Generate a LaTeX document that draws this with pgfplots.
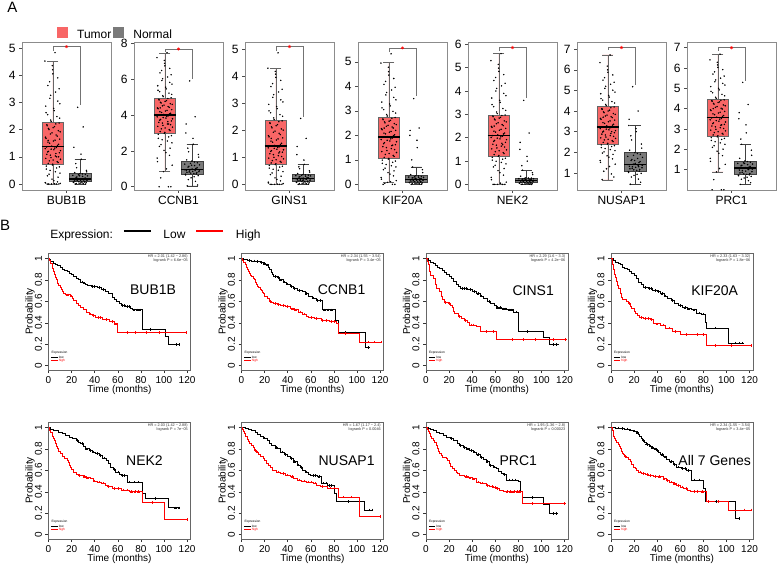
\documentclass[border=0pt]{standalone}
\usepackage{fontspec}
\setmainfont{Liberation Sans}
\usepackage{pgfplots}
\pgfplotsset{compat=1.18}
\usepackage{pgfplotstable}
\usepgfplotslibrary{statistics}
\definecolor{tumorred}{RGB}{248,102,102}
\definecolor{normalgray}{RGB}{122,122,122}
\newcommand{\fs}[1]{\fontsize{#1}{#1}\selectfont}

\pgfplotstableread{
j bub ccn gin kif nek nus prc
-0.21 0 0 0 0 0 0.68 0
0.13 0 0 0 0 0 0.95 0
-0.05 0 0.84 0 0.08 0 1.2 0.88
0.27 0.02 1.2 0.03 0.15 0.1 1.42 1.25
-0.28 0.05 1.6 0.08 0.28 0.3 1.6 1.55
0.04 0.12 1.9 0.18 0.42 0.5 1.76 1.8
0.19 0.25 2.15 0.3 0.55 0.68 1.9 2.0
-0.14 0.36 2.35 0.42 0.66 0.82 2.02 2.17
0.09 0.45 2.55 0.52 0.76 0.94 2.13 2.31
-0.24 0.55 2.7 0.6 0.86 1.04 2.23 2.43
0.24 0.63 2.85 0.67 0.95 1.12 2.32 2.53
-0.02 0.70 2.98 0.73 1.03 1.2 2.4 2.61
-0.17 0.76 3.08 0.79 1.1 1.28 2.48 2.7
0.16 0.82 3.18 0.85 1.18 1.36 2.56 2.78
0.01 0.88 3.28 0.91 1.26 1.44 2.63 2.86
-0.26 0.94 3.37 0.97 1.34 1.52 2.7 2.94
0.21 1.0 3.46 1.03 1.42 1.6 2.77 3.02
-0.09 1.06 3.55 1.1 1.5 1.68 2.84 3.1
0.11 1.12 3.63 1.16 1.58 1.76 2.91 3.18
-0.19 1.18 3.71 1.22 1.66 1.84 2.98 3.26
0.28 1.23 3.79 1.28 1.74 1.92 3.05 3.34
-0.06 1.28 3.86 1.33 1.8 1.98 3.12 3.41
0.07 1.32 3.93 1.37 1.86 2.04 3.18 3.48
-0.23 1.36 3.99 1.41 1.92 2.09 3.24 3.54
0.17 1.42 4.06 1.48 1.99 2.16 3.32 3.62
-0.12 1.5 4.14 1.56 2.06 2.24 3.4 3.7
0.02 1.58 4.22 1.64 2.13 2.32 3.48 3.78
0.25 1.65 4.3 1.72 2.2 2.4 3.56 3.86
-0.27 1.72 4.39 1.8 2.27 2.48 3.64 3.94
0.12 1.8 4.47 1.89 2.34 2.56 3.72 4.02
-0.03 1.88 4.55 1.97 2.41 2.64 3.8 4.1
0.2 1.96 4.63 2.05 2.48 2.72 3.88 4.18
-0.16 2.04 4.71 2.13 2.55 2.8 3.96 4.26
0.06 2.11 4.8 2.21 2.61 2.87 4.04 4.33
-0.22 2.18 4.88 2.28 2.67 2.93 4.12 4.39
0.23 2.24 4.96 2.35 2.73 2.97 4.2 4.43
-0.08 2.35 5.08 2.46 2.85 3.1 4.32 4.56
0.15 2.48 5.22 2.58 2.98 3.25 4.46 4.7
-0.25 2.62 5.38 2.72 3.12 3.42 4.6 4.85
0.03 2.78 5.55 2.88 3.28 3.6 4.76 5.0
0.26 2.95 5.72 3.05 3.45 3.8 4.92 5.16
-0.11 3.15 5.92 3.22 3.65 4.0 5.1 5.32
0.1 3.38 6.12 3.42 3.85 4.22 5.3 5.5
-0.18 3.62 6.35 3.62 4.08 4.45 5.5 5.7
0.18 3.9 6.6 3.85 4.32 4.7 5.75 5.92
-0.01 4.2 6.88 4.08 4.6 4.98 6.0 6.15
-0.29 4.52 7.2 4.3 4.95 5.3 6.35 6.4
0.08 4.83 7.48 4.87 5.33 5.6 6.72 6.68
}\tumortab

\pgfplotstableread{
j bub ccn gin kif nek nus prc
0.22 0 0 0 0 0 0.8 0
-0.15 0 0.5 0 0.04 0 1.08 0.5
0.06 0.01 1.0 0.01 0.11 0.05 1.31 1.05
-0.27 0.04 1.4 0.05 0.21 0.2 1.51 1.4
0.17 0.08 1.75 0.13 0.35 0.4 1.68 1.68
-0.03 0.18 2.03 0.24 0.48 0.59 1.83 1.9
-0.2 0.3 2.25 0.36 0.6 0.75 1.96 2.09
0.26 0.4 2.45 0.47 0.71 0.88 2.08 2.24
-0.1 0.5 2.62 0.56 0.81 0.99 2.18 2.37
0.14 0.59 2.78 0.64 0.9 1.08 2.28 2.48
-0.24 0.66 2.92 0.7 0.99 1.16 2.36 2.57
0.0 0.73 3.03 0.76 1.06 1.24 2.44 2.66
0.19 0.79 3.13 0.82 1.14 1.32 2.52 2.74
-0.13 0.85 3.23 0.88 1.22 1.4 2.6 2.82
0.28 0.91 3.32 0.94 1.3 1.48 2.67 2.9
-0.07 0.97 3.42 1.0 1.38 1.56 2.74 2.98
0.09 1.03 3.5 1.06 1.46 1.64 2.81 3.06
-0.22 1.09 3.59 1.13 1.54 1.72 2.88 3.14
0.24 1.15 3.67 1.19 1.62 1.8 2.95 3.22
-0.16 1.2 3.75 1.25 1.7 1.88 3.02 3.3
0.04 1.26 3.83 1.3 1.77 1.95 3.09 3.38
-0.28 1.3 3.9 1.35 1.83 2.01 3.15 3.45
0.13 1.34 3.96 1.39 1.89 2.06 3.21 3.51
-0.04 1.39 4.03 1.44 1.95 2.12 3.28 3.58
0.21 1.46 4.1 1.52 2.02 2.2 3.36 3.66
-0.18 1.54 4.18 1.6 2.09 2.28 3.44 3.74
0.08 1.61 4.26 1.68 2.16 2.36 3.52 3.82
-0.25 1.68 4.35 1.76 2.23 2.44 3.6 3.9
0.16 1.76 4.43 1.84 2.3 2.52 3.68 3.98
-0.09 1.84 4.51 1.93 2.37 2.6 3.76 4.06
0.27 1.92 4.59 2.01 2.44 2.68 3.84 4.14
-0.14 2.0 4.67 2.09 2.51 2.76 3.92 4.22
0.01 2.07 4.76 2.17 2.58 2.84 4.0 4.3
-0.21 2.14 4.84 2.25 2.64 2.9 4.08 4.36
0.11 2.21 4.92 2.32 2.7 2.95 4.16 4.41
-0.06 2.3 5.02 2.4 2.79 3.03 4.26 4.5
0.25 2.42 5.15 2.52 2.91 3.17 4.39 4.63
-0.19 2.55 5.3 2.65 3.05 3.33 4.53 4.78
0.05 2.7 5.46 2.8 3.2 3.51 4.68 4.92
-0.26 2.86 5.63 2.96 3.36 3.7 4.84 5.08
0.18 3.05 5.82 3.13 3.55 3.9 5.01 5.24
-0.08 3.26 6.02 3.32 3.75 4.11 5.2 5.41
0.23 3.5 6.24 3.52 3.96 4.33 5.4 5.6
-0.12 3.76 6.48 3.73 4.2 4.58 5.62 5.81
0.0 4.05 6.74 3.96 4.46 4.84 5.88 6.03
-0.02 4.35 7.04 4.18 4.78 5.14 6.18 6.28
0.14 1.0 3.5 1.2 1.6 1.7 3.0 3.2
-0.17 1.6 4.4 1.7 2.3 2.5 3.7 4.0
}\tumortabb

\pgfplotstableread{
j bub ccn gin kif nek nus prc
-0.18 0 0.05 0 0 0 0.45 0.27
0.12 0.01 0.3 0.02 0.02 0.01 0.7 0.45
-0.04 0.03 0.5 0.04 0.04 0.02 0.88 0.58
0.22 0.05 0.62 0.06 0.06 0.04 0.98 0.66
-0.25 0.07 0.7 0.08 0.08 0.05 1.06 0.72
0.06 0.08 0.74 0.1 0.1 0.07 1.12 0.76
0.17 0.1 0.78 0.12 0.12 0.09 1.17 0.8
-0.11 0.12 0.82 0.14 0.14 0.11 1.22 0.86
0.02 0.14 0.86 0.16 0.16 0.13 1.27 0.92
-0.21 0.15 0.9 0.18 0.18 0.15 1.32 0.97
0.26 0.17 0.93 0.2 0.2 0.17 1.37 1.02
-0.07 0.18 0.96 0.22 0.21 0.18 1.42 1.07
0.14 0.2 1.02 0.24 0.23 0.2 1.5 1.12
-0.15 0.24 1.1 0.27 0.26 0.22 1.6 1.18
0.09 0.28 1.18 0.3 0.28 0.24 1.7 1.24
-0.27 0.32 1.26 0.32 0.3 0.25 1.8 1.3
0.19 0.35 1.34 0.34 0.32 0.27 1.9 1.36
-0.01 0.38 1.43 0.36 0.35 0.28 1.98 1.42
0.24 0.45 1.65 0.45 0.48 0.42 2.2 1.7
-0.13 0.6 1.95 0.58 0.71 0.61 2.6 2.24
0.04 0.91 2.37 0.74 1.5 1.0 3.0 2.8
-0.23 1.35 3.0 1.1 2.0 1.5 3.3 3.5
0.11 2.1 3.9 1.7 2.3 2.2 4.0 4.2
-0.09 2.82 5.9 2.44 3.5 3.6 5.18 5.29
}\normaltab

\pgfplotstableread{
j bub ccn gin kif nek nus prc
0.2 0 0.1 0.01 0.01 0 0.55 0.35
-0.14 0.02 0.4 0.03 0.03 0.01 0.8 0.52
0.07 0.04 0.56 0.05 0.05 0.03 0.93 0.62
-0.24 0.06 0.66 0.07 0.07 0.05 1.02 0.69
0.15 0.075 0.72 0.09 0.09 0.06 1.09 0.74
-0.05 0.09 0.76 0.11 0.11 0.08 1.15 0.78
-0.19 0.11 0.8 0.13 0.13 0.1 1.2 0.83
0.25 0.13 0.84 0.15 0.15 0.12 1.25 0.89
-0.1 0.145 0.88 0.17 0.17 0.14 1.3 0.95
0.11 0.16 0.91 0.19 0.19 0.16 1.35 1.0
-0.26 0.175 0.94 0.21 0.2 0.175 1.4 1.05
0.0 0.19 0.99 0.23 0.22 0.19 1.46 1.1
0.18 0.22 1.06 0.25 0.24 0.21 1.55 1.15
-0.12 0.26 1.14 0.28 0.27 0.23 1.65 1.21
0.27 0.3 1.22 0.31 0.29 0.245 1.75 1.27
-0.06 0.34 1.3 0.33 0.31 0.26 1.85 1.33
0.08 0.37 1.38 0.35 0.34 0.275 1.94 1.39
-0.2 0.42 1.5 0.4 0.4 0.35 2.1 1.55
0.23 0.5 1.8 0.5 0.6 0.5 2.4 1.95
-0.16 0.75 2.15 0.65 1.0 0.8 2.8 2.5
0.03 1.1 2.7 0.9 1.8 1.2 3.15 3.2
-0.22 0.2 3.5 1.4 2.2 1.8 3.6 3.8
0.13 0.15 1.0 0.2 0.15 0.12 1.3 1.0
-0.02 0.3 1.2 0.15 0.25 0.2 1.6 1.3
}\normaltabb

\pgfplotsset{
  boxax/.style={scale only axis, width=89pt, height=148pt, anchor=south west,
    xmin=-0.13, xmax=3.13, xtick={1.5},
    axis line style={black!45, line width=0.8pt},
    tick style={black!70, line width=0.6pt}, major tick length=3pt,
    tick align=outside, xtick pos=left, ytick pos=left,
    tick label style={font=\fs{12}},
    /pgf/number format/assume math mode=true, clip=false},
  tumorbox/.style={fill=tumorred, draw=black!60, line width=0.6pt,
    boxplot/draw direction=y,
    boxplot/box extend=0.8, boxplot/whisker extend=0.4,
    boxplot/every median/.style={black, line width=1.3pt}},
  normalbox/.style={fill=normalgray, draw=black!75, line width=0.6pt,
    boxplot/draw direction=y,
    boxplot/box extend=0.8, boxplot/whisker extend=0.4,
    boxplot/every median/.style={black, line width=1.3pt}},
  dots/.style={only marks, mark=*, mark size=0.5pt, black, mark options={draw=none, fill=black}},
  bracket/.style={black!55, line width=0.5pt, no marks, sharp plot},
  sqlegend/.style={legend image code/.code={\fill[##1] (0pt,-4pt) rectangle (11pt,7pt);}},
  kmlegend/.style={legend image code/.code={\draw[##1] (0pt,3.5pt) -- (27pt,3.5pt);}},
  kmax/.style={scale only axis, width=142pt, height=117pt, anchor=south west,
    xmin=0, xmax=123, ymin=-0.04, ymax=1.05,
    xtick={0,20,...,120}, ytick={0,0.2,0.4,0.6,0.8,1},
    yticklabels={0,0.2,0.4,0.6,0.8,1},
    yticklabel style={rotate=90, anchor=south},
    xlabel={Time (months)}, ylabel={Probability},
    every axis x label/.style={at={(axis description cs:0.5,-0.17)}, anchor=center},
    every axis y label/.style={at={(axis description cs:-0.13,0.5)}, rotate=90, anchor=center},
    label style={font=\fs{10}}, tick label style={font=\fs{10}},
    axis line style={black!60, line width=0.6pt},
    tick style={black!80, line width=0.5pt}, major tick length=3pt,
    tick align=outside, xtick pos=left, ytick pos=left,
    /pgf/number format/assume math mode=true},
  lowc/.style={black, line width=0.8pt, const plot, no marks},
  highc/.style={red, line width=0.8pt, const plot, no marks},
  lowcens/.style={only marks, mark=+, mark size=1.3pt, black, mark options={line width=0.4pt}},
  highcens/.style={only marks, mark=+, mark size=1.3pt, red, mark options={line width=0.4pt}},
}

\newcommand{\boxpanel}[8]{%
\begin{axis}[boxax, at={(#1pt,375pt)}, #2]
#8
\addplot[tumorbox, boxplot prepared={draw position=1, #4}] coordinates {};
\addplot[normalbox, boxplot prepared={draw position=2, #5}] coordinates {};
\addplot[dots] table[x expr=1+\thisrow{j}, y=#3] {\tumortab};
\addplot[dots] table[x expr=1+\thisrow{j}, y=#3] {\tumortabb};
\addplot[dots] table[x expr=2+\thisrow{j}, y=#3] {\normaltab};
\addplot[dots] table[x expr=2+\thisrow{j}, y=#3] {\normaltabb};
\addplot[bracket] coordinates {#6};
\addplot[only marks, mark=asterisk, red, mark size=1.6pt, mark options={line width=0.5pt}] coordinates {(1.5,#7)};
\end{axis}}

\newcommand{\kmdecor}[5]{%
\node[anchor=north east, align=right, font=\fs{3.8}, text=black!80, inner sep=0pt] at (axis description cs:0.982,0.987) {#1\\#2};
\node[font=\fs{14}, inner sep=0pt] at (axis description cs:#4,#5) {#3};
\node[anchor=west, font=\fs{3.2}, inner sep=0pt] at (axis description cs:0.02,0.145) {Expression};
\draw[black, line width=0.3pt] (axis description cs:0.02,0.11) -- (axis description cs:0.065,0.11) node[anchor=west, font=\fs{3.2}, inner sep=1pt] {low};
\draw[red, line width=0.3pt] (axis description cs:0.02,0.08) -- (axis description cs:0.065,0.08) node[anchor=west, font=\fs{3.2}, inner sep=1pt] {high};
}

\begin{document}
\begin{tikzpicture}[x=1pt,y=1pt]
\useasboundingbox (0pt,0pt) rectangle (778pt,565pt);
\node[font=\fs{15}, inner sep=0pt] at (12.5pt,557.5pt) {A};
\node[font=\fs{15}, inner sep=0pt, anchor=west] at (0pt,340pt) {B};

% ---------------- Panel A ----------------
\boxpanel{22}{xticklabels={BUB1B}, ymin=-0.22, ymax=5.22, ytick={0,1,2,3,4,5},
  sqlegend, legend columns=-1,
  legend style={draw=none, fill=none, at={(axis description cs:0.393,1.064)}, anchor=west,
    font=\fs{12}, inner sep=0pt, nodes={inner sep=0pt, text height=8.6pt, text depth=0pt},
    /tikz/every even column/.append style={column sep=2pt},
    /tikz/every odd column/.append style={column sep=9pt}}}{bub}
  {median=1.37, upper quartile=2.25, lower quartile=0.72, upper whisker=4.52, lower whisker=0}
  {median=0.18, upper quartile=0.39, lower quartile=0.085, upper whisker=0.91, lower whisker=0}
  {(1,4.9) (1,5.05) (2,5.05) (2,2.9)}{5.05}
  {\addlegendimage{fill=tumorred, draw=none}\addlegendentry{Tumor}
   \addlegendimage{fill=normalgray, draw=none}\addlegendentry{Normal}}

\boxpanel{134}{xticklabels={CCNB1}, ymin=-0.18, ymax=8.07, ytick={0,2,4,6,8}}{ccn}
  {median=4.0, upper quartile=4.95, lower quartile=3.0, upper whisker=7.45, lower whisker=0.84}
  {median=0.95, upper quartile=1.43, lower quartile=0.72, upper whisker=2.35, lower whisker=0.05}
  {(1,7.5) (1,7.68) (2,7.68) (2,6.0)}{7.68}{}

\boxpanel{245}{xticklabels={GINS1}, ymin=-0.21, ymax=5.27, ytick={0,1,2,3,4,5}}{gin}
  {median=1.42, upper quartile=2.36, lower quartile=0.75, upper whisker=4.3, lower whisker=0}
  {median=0.22, upper quartile=0.37, lower quartile=0.1, upper whisker=0.74, lower whisker=0}
  {(1,4.95) (1,5.1) (2,5.1) (2,2.5)}{5.1}{}

\boxpanel{358}{xticklabels={KIF20A}, ymin=-0.23, ymax=5.81, ytick={0,1,2,3,4,5}}{kif}
  {median=1.93, upper quartile=2.74, lower quartile=1.05, upper whisker=4.97, lower whisker=0.08}
  {median=0.21, upper quartile=0.35, lower quartile=0.1, upper whisker=0.71, lower whisker=0}
  {(1,5.4) (1,5.57) (2,5.57) (2,3.6)}{5.57}{}

\boxpanel{468}{xticklabels={NEK2}, ymin=-0.24, ymax=6.1, ytick={0,1,2,3,4,5,6}}{nek}
  {median=2.08, upper quartile=2.98, lower quartile=1.22, upper whisker=5.6, lower whisker=0}
  {median=0.18, upper quartile=0.28, lower quartile=0.07, upper whisker=0.61, lower whisker=0}
  {(1,5.7) (1,5.86) (2,5.86) (2,3.7)}{5.86}{}

\boxpanel{577}{xticklabels={NUSAP1}, ymin=0.17, ymax=7.35, ytick={1,2,3,4,5,6,7}}{nus}
  {median=3.22, upper quartile=4.22, lower quartile=2.4, upper whisker=6.72, lower whisker=0.66}
  {median=1.42, upper quartile=1.98, lower quartile=1.1, upper whisker=3.3, lower whisker=0.45}
  {(1,6.95) (1,7.08) (2,7.08) (2,5.25)}{7.08}{}

\boxpanel{687}{xticklabels={PRC1}, ymin=-0.01, ymax=7.28, ytick={1,2,3,4,5,6,7}}{prc}
  {median=3.55, upper quartile=4.44, lower quartile=2.63, upper whisker=6.68, lower whisker=0.88}
  {median=1.08, upper quartile=1.42, lower quartile=0.77, upper whisker=2.24, lower whisker=0.27}
  {(1,6.85) (1,7.0) (2,7.0) (2,5.35)}{7.0}{}

% ---------------- Panel B ----------------
% BUB1B
\begin{axis}[kmax, at={(48.5pt,195pt)}, kmlegend, legend columns=-1,
  legend style={draw=none, fill=none, at={(axis description cs:-0.07,1.154)}, anchor=west,
    font=\fs{12}, inner sep=0pt, nodes={inner sep=0pt},
    /tikz/every even column/.append style={column sep=10pt},
    /tikz/every odd column/.append style={column sep=11.5pt}}]
\addlegendimage{empty legend}\addlegendentry{Expression:}
\addlegendimage{black, line width=2pt}\addlegendentry{Low}
\addlegendimage{red, line width=2pt}\addlegendentry{High}
\addplot[lowc] coordinates {(0,1) (1,0.99) (2,0.97) (4,0.95) (6,0.94) (8,0.93) (10,0.92) (12,0.9) (14,0.89) (16,0.88) (18,0.86) (20,0.85) (22,0.83) (24,0.81) (26,0.8) (28,0.78) (30,0.77) (32,0.76) (34,0.75) (37,0.74) (42,0.73) (46,0.71) (49,0.69) (52,0.67) (55,0.64) (57,0.62) (59,0.6) (61,0.58) (63,0.56) (67,0.55) (71,0.53) (73,0.52) (81,0.34) (101,0.27) (104,0.2) (113,0.2)};
\addplot[highc] coordinates {(0,1) (1,0.98) (2,0.95) (3,0.91) (4,0.88) (5,0.85) (6,0.82) (7,0.8) (8,0.77) (9,0.75) (10,0.73) (11,0.71) (12,0.69) (13,0.67) (15,0.66) (19,0.65) (21,0.63) (22,0.61) (24,0.58) (26,0.56) (28,0.54) (30,0.52) (33,0.5) (35,0.48) (38,0.47) (41,0.45) (47,0.43) (53,0.41) (57,0.39) (60,0.31) (119,0.31)};
\addplot[lowcens] coordinates {(29,0.78) (31,0.77) (38,0.74) (40,0.74) (44,0.73) (47,0.71) (64,0.56) (66,0.56) (68,0.55) (70,0.55) (74,0.52) (77,0.52) (79,0.52) (88,0.34) (111,0.2) (113,0.2)};
\addplot[highcens] coordinates {(16,0.66) (17,0.66) (20,0.65) (36,0.48) (39,0.47) (43,0.45) (45,0.45) (50,0.43) (55,0.41) (58,0.39) (68,0.31) (75,0.31) (85,0.31) (96,0.31) (119,0.31)};
\kmdecor{HR = 2.01 (1.42 − 2.86)}{logrank P = 6.6e−05}{BUB1B}{0.736}{0.69}
\end{axis}

% CCNB1
\begin{axis}[kmax, at={(241.5pt,195pt)}]
\addplot[lowc] coordinates {(0,1) (2,0.99) (5,0.98) (9,0.975) (13,0.97) (16,0.96) (19,0.95) (21,0.94) (23,0.92) (24,0.9) (26,0.87) (27,0.85) (28,0.83) (31,0.82) (33,0.8) (36,0.78) (39,0.76) (42,0.74) (45,0.72) (48,0.7) (53,0.69) (55,0.67) (58,0.65) (61,0.63) (65,0.61) (70,0.52) (81.5,0.42) (83.5,0.31) (107.5,0.17) (110,0.17)};
\addplot[highc] coordinates {(0,1) (1,0.98) (2,0.96) (3,0.94) (4,0.92) (5,0.9) (6,0.88) (7,0.86) (8,0.84) (9,0.83) (10,0.81) (11,0.8) (12,0.78) (13,0.76) (14,0.74) (15,0.73) (16,0.71) (17,0.7) (18,0.68) (19,0.67) (20,0.65) (22,0.63) (24,0.6) (26,0.59) (28,0.58) (31,0.57) (34,0.56) (38,0.55) (42,0.53) (46,0.52) (49,0.5) (53,0.48) (56,0.46) (58,0.45) (63,0.44) (69,0.42) (76,0.41) (82,0.39) (83.5,0.3) (102,0.22) (121,0.22)};
\addplot[lowcens] coordinates {(7,0.98) (11,0.975) (14,0.97) (17,0.96) (20,0.95) (22,0.94) (29,0.83) (32,0.82) (34,0.8) (37,0.78) (40,0.76) (43,0.74) (46,0.72) (50,0.7) (56,0.67) (62,0.63) (66,0.61) (68,0.61) (72,0.52) (75,0.52) (78,0.52) (90,0.31) (110,0.17)};
\addplot[highcens] coordinates {(25,0.6) (29,0.58) (32,0.57) (36,0.56) (40,0.55) (44,0.53) (47,0.52) (51,0.5) (54,0.48) (60,0.45) (65,0.44) (70,0.42) (73,0.42) (78,0.41) (80,0.41) (90,0.3) (110,0.22) (115,0.22) (121,0.22)};
\kmdecor{HR = 2.34 (1.55 − 3.54)}{logrank P = 3.4e−05}{CCNB1}{0.705}{0.69}
\end{axis}

% CINS1
\begin{axis}[kmax, at={(426pt,195pt)}]
\addplot[lowc] coordinates {(0,1) (2,0.98) (4,0.96) (6,0.95) (8,0.93) (10,0.92) (12,0.905) (14,0.89) (16,0.87) (18,0.85) (20,0.83) (22,0.81) (24,0.79) (26,0.76) (28,0.74) (30,0.72) (36,0.71) (40,0.69) (44,0.67) (47,0.65) (50,0.63) (53,0.6) (56,0.58) (59,0.56) (61,0.54) (65,0.53) (70,0.52) (76,0.5) (80,0.32) (102,0.26) (107,0.2) (115,0.2)};
\addplot[highc] coordinates {(0,1) (1,0.97) (2,0.945) (3,0.88) (3.5,0.84) (6,0.81) (8,0.76) (9,0.72) (12,0.69) (13,0.65) (14,0.62) (16,0.59) (19,0.58) (21,0.56) (23,0.54) (24,0.51) (25,0.49) (28,0.46) (31,0.44) (33,0.42) (36,0.4) (38,0.38) (44,0.37) (47,0.32) (61,0.245) (121,0.245)};
\addplot[lowcens] coordinates {(31,0.72) (33,0.72) (35,0.72) (38,0.71) (42,0.69) (45,0.67) (48,0.65) (55,0.6) (62,0.54) (64,0.54) (67,0.53) (69,0.53) (72,0.52) (74,0.52) (78,0.5) (88,0.32) (110,0.2) (113,0.2)};
\addplot[highcens] coordinates {(17,0.59) (20,0.58) (29,0.46) (34,0.42) (39,0.38) (41,0.38) (52,0.32) (58,0.32) (75,0.245) (84,0.245) (95,0.245) (110,0.245) (121,0.245)};
\kmdecor{HR = 2.29 (1.6 − 3.3)}{logrank P = 4.2e−06}{CINS1}{0.755}{0.68}
\end{axis}

% KIF20A
\begin{axis}[kmax, at={(611pt,195pt)}]
\addplot[lowc] coordinates {(0,1) (2,0.98) (4,0.96) (6,0.95) (8,0.94) (10,0.92) (12,0.91) (14,0.9) (16,0.88) (18,0.86) (20,0.84) (22,0.81) (24,0.78) (26,0.76) (28,0.73) (32,0.72) (36,0.7) (40,0.69) (43,0.67) (46,0.65) (49,0.63) (52,0.61) (55,0.58) (58,0.56) (62,0.54) (66,0.53) (70,0.52) (74,0.49) (78,0.48) (81.7,0.4) (83,0.35) (102,0.21) (115,0.21)};
\addplot[highc] coordinates {(0,1) (1,0.97) (1.5,0.94) (2,0.9) (2.6,0.85) (3.5,0.82) (4.3,0.79) (5.5,0.75) (6.4,0.72) (7.8,0.67) (9,0.64) (10,0.62) (13,0.6) (15,0.58) (17,0.55) (18,0.53) (20,0.51) (21,0.49) (23,0.47) (25,0.45) (28,0.44) (34,0.43) (37,0.39) (43,0.38) (47,0.35) (53,0.32) (60,0.29) (82.6,0.19) (121,0.19)};
\addplot[lowcens] coordinates {(30,0.73) (33,0.72) (35,0.72) (38,0.7) (41,0.69) (44,0.67) (47,0.65) (53,0.61) (60,0.56) (64,0.54) (67,0.53) (72,0.52) (76,0.49) (80,0.48) (90,0.35) (108,0.21) (111,0.21) (114,0.21)};
\addplot[highcens] coordinates {(16,0.58) (26,0.45) (30,0.44) (32,0.44) (35,0.43) (40,0.39) (45,0.38) (50,0.35) (56,0.32) (65,0.29) (75,0.29) (80,0.29) (90,0.19) (104,0.19) (121,0.19)};
\kmdecor{HR = 2.33 (1.63 − 3.32)}{logrank P = 1.8e−06}{KIF20A}{0.73}{0.68}
\end{axis}

% NEK2
\begin{axis}[kmax, at={(48.5pt,26pt)}]
\addplot[lowc] coordinates {(0,1) (2,0.985) (4,0.975) (6,0.97) (9,0.955) (12,0.94) (15,0.925) (18,0.91) (21,0.895) (24,0.88) (26,0.86) (28,0.85) (30,0.82) (32,0.8) (35,0.785) (38,0.77) (41,0.755) (44,0.74) (47,0.715) (50,0.69) (52,0.66) (54,0.63) (56,0.61) (58,0.585) (61,0.565) (63,0.55) (68,0.49) (81,0.385) (84,0.34) (104,0.25) (113,0.25)};
\addplot[highc] coordinates {(0,1) (1,0.97) (2,0.95) (3,0.92) (4,0.9) (5,0.88) (6,0.85) (7,0.82) (8,0.8) (9,0.78) (10,0.76) (12,0.73) (14,0.71) (16,0.69) (17,0.67) (18,0.65) (19,0.63) (20,0.61) (22,0.585) (24,0.56) (26,0.55) (30,0.54) (33,0.53) (36,0.52) (39,0.5) (42,0.49) (46,0.48) (49,0.46) (51,0.45) (55,0.43) (63,0.415) (70,0.4) (81.3,0.3) (100.6,0.14) (120,0.14)};
\addplot[lowcens] coordinates {(25,0.88) (29,0.85) (33,0.8) (36,0.785) (39,0.77) (42,0.755) (45,0.74) (48,0.715) (57,0.61) (60,0.585) (64,0.55) (66,0.55) (70,0.49) (74,0.49) (78,0.49) (92,0.34) (110,0.25) (113,0.25)};
\addplot[highcens] coordinates {(27,0.55) (31,0.54) (34,0.53) (40,0.5) (44,0.49) (47,0.48) (52,0.45) (57,0.43) (60,0.43) (65,0.415) (68,0.415) (72,0.4) (75,0.4) (78,0.4) (90,0.3) (120,0.14)};
\kmdecor{HR = 2.03 (1.42 − 2.88)}{logrank P = 7e−05}{NEK2}{0.676}{0.67}
\end{axis}

% NUSAP1
\begin{axis}[kmax, at={(241.5pt,26pt)}]
\addplot[lowc] coordinates {(0,1) (3,0.99) (6,0.985) (9,0.97) (12,0.95) (14,0.935) (16,0.92) (19,0.9) (22,0.88) (24,0.855) (26,0.83) (29,0.81) (31,0.8) (34,0.77) (37,0.75) (40,0.73) (42,0.71) (45,0.68) (48,0.65) (51,0.625) (53,0.6) (55,0.585) (58,0.565) (60,0.55) (66,0.54) (69.6,0.48) (74,0.46) (80.6,0.385) (82.6,0.31) (106.7,0.23) (113,0.23)};
\addplot[highc] coordinates {(0,1) (1,0.98) (1.5,0.96) (2.5,0.94) (3.8,0.92) (5,0.89) (6,0.87) (7,0.85) (8.7,0.83) (10,0.81) (11.6,0.785) (13,0.77) (15,0.75) (16.5,0.73) (18.8,0.71) (20,0.69) (21.7,0.66) (23,0.645) (25,0.625) (27,0.6) (30.4,0.585) (34,0.57) (38,0.555) (42,0.54) (45,0.525) (48,0.51) (52,0.5) (56,0.49) (62,0.48) (65,0.46) (68,0.45) (74,0.435) (84,0.35) (102,0.17) (120,0.17)};
\addplot[lowcens] coordinates {(20,0.9) (30,0.81) (35,0.77) (38,0.75) (43,0.71) (46,0.68) (49,0.65) (52,0.625) (56,0.585) (62,0.55) (64,0.55) (67,0.54) (71,0.48) (73,0.48) (76,0.46) (78,0.46) (92,0.31) (111,0.23) (113,0.23)};
\addplot[highcens] coordinates {(12,0.785) (14,0.77) (32,0.585) (36,0.57) (40,0.555) (44,0.54) (50,0.51) (54,0.5) (58,0.49) (60,0.49) (64,0.48) (70,0.45) (77,0.435) (80,0.435) (88,0.35) (95,0.35) (120,0.17)};
\kmdecor{HR = 1.67 (1.17 − 2.4)}{logrank P = 0.0046}{NUSAP1}{0.74}{0.67}
\end{axis}

% PRC1
\begin{axis}[kmax, at={(426pt,26pt)}]
\addplot[lowc] coordinates {(0,1) (2,0.99) (4,0.98) (6,0.97) (9,0.955) (12,0.94) (15,0.925) (18,0.91) (21,0.895) (24,0.88) (27,0.85) (29,0.83) (32,0.815) (35,0.8) (38,0.785) (41,0.77) (44,0.745) (47,0.72) (50,0.7) (52,0.68) (55,0.646) (58,0.63) (61,0.615) (63,0.59) (65,0.57) (67,0.56) (70,0.51) (80,0.5) (82,0.4) (83.5,0.345) (102,0.28) (106.7,0.2) (114.5,0.2)};
\addplot[highc] coordinates {(0,1) (1,0.985) (2,0.96) (3,0.94) (4,0.92) (5,0.9) (6,0.88) (7,0.86) (8.7,0.83) (10,0.8) (11,0.775) (11.6,0.755) (13,0.735) (14.5,0.72) (17.4,0.71) (18.5,0.69) (20,0.66) (21.5,0.64) (23.2,0.615) (25,0.6) (26,0.585) (27.5,0.57) (29,0.55) (33,0.54) (37,0.53) (40,0.52) (43.5,0.49) (47,0.48) (52,0.46) (55,0.45) (58,0.44) (61,0.43) (64,0.41) (66.7,0.4) (83.5,0.29) (120,0.29)};
\addplot[lowcens] coordinates {(22,0.895) (30,0.83) (33,0.815) (36,0.8) (39,0.785) (42,0.77) (45,0.745) (48,0.72) (53,0.68) (56,0.646) (59,0.63) (68,0.56) (72,0.51) (75,0.51) (77,0.51) (92,0.345) (110,0.2) (113,0.2)};
\addplot[highcens] coordinates {(35,0.54) (38,0.53) (41,0.52) (45,0.49) (49,0.48) (53,0.46) (57,0.45) (60,0.44) (62,0.43) (70,0.4) (73,0.4) (76,0.4) (79,0.4) (81,0.4) (92,0.29) (120,0.29)};
\kmdecor{HR = 1.95 (1.36 − 2.8)}{logrank P = 0.00023}{PRC1}{0.65}{0.67}
\end{axis}

% All 7 Genes
\begin{axis}[kmax, at={(611pt,26pt)}]
\addplot[lowc] coordinates {(0,1) (4,0.995) (8,0.99) (12,0.985) (16,0.975) (19,0.965) (22,0.95) (24,0.935) (25,0.92) (26.5,0.9) (27.5,0.88) (29,0.86) (30.5,0.84) (33,0.825) (35,0.81) (37,0.8) (39,0.785) (41,0.77) (43,0.745) (45,0.725) (48,0.7) (51,0.68) (54,0.655) (57,0.63) (61,0.615) (65,0.6) (70,0.51) (80.3,0.43) (81.8,0.31) (107.8,0.15) (110.7,0.15)};
\addplot[highc] coordinates {(0,1) (1,0.97) (2,0.92) (3,0.9) (4,0.88) (5,0.86) (6,0.84) (7,0.82) (8,0.8) (9,0.78) (10,0.76) (11,0.745) (12,0.73) (13.6,0.72) (15,0.7) (16.5,0.68) (18,0.655) (19.4,0.63) (21,0.615) (22.3,0.6) (24,0.585) (26.7,0.57) (30,0.56) (32.5,0.55) (37,0.545) (40,0.54) (45.5,0.52) (48,0.505) (51,0.49) (54,0.475) (57,0.46) (60,0.445) (63,0.43) (66,0.415) (69,0.405) (77,0.4) (82.6,0.31) (102,0.23) (121,0.23)};
\addplot[lowcens] coordinates {(6,0.995) (10,0.99) (14,0.985) (17,0.975) (20,0.965) (23,0.95) (28,0.88) (31,0.84) (34,0.825) (36,0.81) (38,0.8) (40,0.785) (44,0.745) (47,0.725) (52,0.68) (55,0.655) (58,0.63) (62,0.615) (64,0.615) (67,0.6) (72,0.51) (76,0.51) (91,0.31) (110.7,0.15)};
\addplot[highcens] coordinates {(12.5,0.73) (25,0.585) (28,0.57) (31,0.56) (34,0.55) (38,0.545) (42,0.54) (46,0.52) (49,0.505) (52,0.49) (55,0.475) (58,0.46) (62,0.445) (65,0.43) (72,0.405) (75,0.405) (79,0.4) (84,0.31) (93,0.31) (115,0.23) (121,0.23)};
\kmdecor{HR = 2.34 (1.55 − 3.54)}{logrank P = 3.4e−05}{All 7 Genes}{0.73}{0.67}
\end{axis}
\end{tikzpicture}
\end{document}
